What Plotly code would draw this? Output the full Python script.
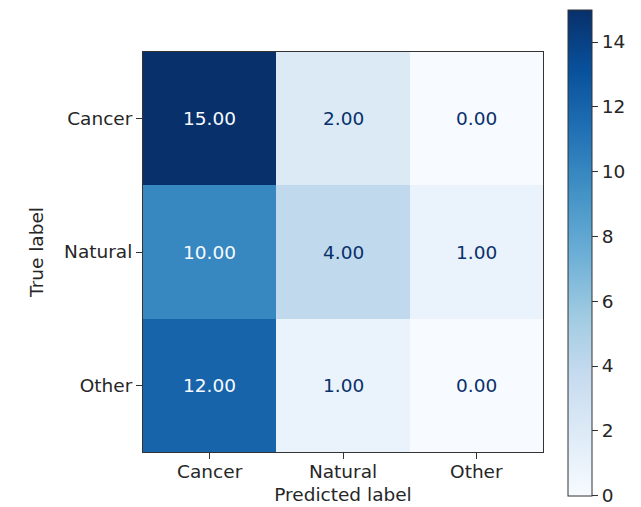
import plotly.graph_objects as go

# Confusion matrix: rows = true label, columns = predicted label
labels = ["Cancer", "Natural", "Other"]
counts = [
    [15, 2, 0],
    [10, 4, 1],
    [12, 1, 0],
]
cbar_ticks = [0, 2, 4, 6, 8, 10, 12, 14]

# Sequential blue palette (ColorBrewer Blues, 9 steps)
blues = ["#f7fbff", "#deebf7", "#c6dbef", "#9ecae1", "#6baed6",
         "#4292c6", "#2171b5", "#08519c", "#08306b"]
colorscale = [[i / (len(blues) - 1), c] for i, c in enumerate(blues)]

zmin = min(min(r) for r in counts)
zmax = max(max(r) for r in counts)
threshold = (zmin + zmax) / 2

FONT = "DejaVu Sans"
FS = 18.5
INK = "#262626"

fig = go.Figure(
    go.Heatmap(
        z=counts,
        x=labels,
        y=labels,
        colorscale=colorscale,
        zmin=zmin,
        zmax=zmax,
        hovertemplate="True: %{y}<br>Predicted: %{x}<br>%{z}<extra></extra>",
        colorbar=dict(
            x=1.062,
            xanchor="left",
            xpad=0,
            y=0.4985,
            yanchor="middle",
            ypad=0,
            len=486,
            lenmode="pixels",
            thickness=24,
            outlinewidth=1,
            outlinecolor="#333",
            tickvals=cbar_ticks,
            ticks="outside",
            ticklen=6,
            tickwidth=1,
            tickcolor="#333",
            tickfont=dict(family=FONT, size=FS, color=INK),
        ),
    )
)

# Cell value labels, light text on dark cells and dark text on light cells
for i, row in enumerate(counts):
    for j, v in enumerate(row):
        fig.add_annotation(
            x=labels[j],
            y=labels[i],
            text=f"{v:.2f}",
            showarrow=False,
            font=dict(family=FONT, size=FS,
                      color=blues[0] if v > threshold else blues[-1]),
        )

axis_common = dict(
    showline=True,
    linecolor="#333",
    linewidth=1,
    mirror=True,
    ticks="outside",
    ticklen=6,
    tickwidth=1,
    tickcolor="#333",
    showgrid=False,
    zeroline=False,
    automargin=False,
    tickfont=dict(family=FONT, size=FS, color=INK),
)

fig.update_layout(
    width=641,
    height=507,
    margin=dict(l=143, r=98, t=52, b=55),
    paper_bgcolor="white",
    plot_bgcolor="white",
    font=dict(family=FONT, size=FS, color=INK),
    xaxis=dict(
        **axis_common,
        ticklabelstandoff=-3,
        title=dict(text="Predicted label", standoff=6,
                   font=dict(family=FONT, size=FS, color=INK)),
    ),
    yaxis=dict(
        **axis_common,
        autorange="reversed",
        title=dict(text="True label", standoff=15,
                   font=dict(family=FONT, size=FS, color=INK)),
    ),
)

fig.write_html("out.html")
